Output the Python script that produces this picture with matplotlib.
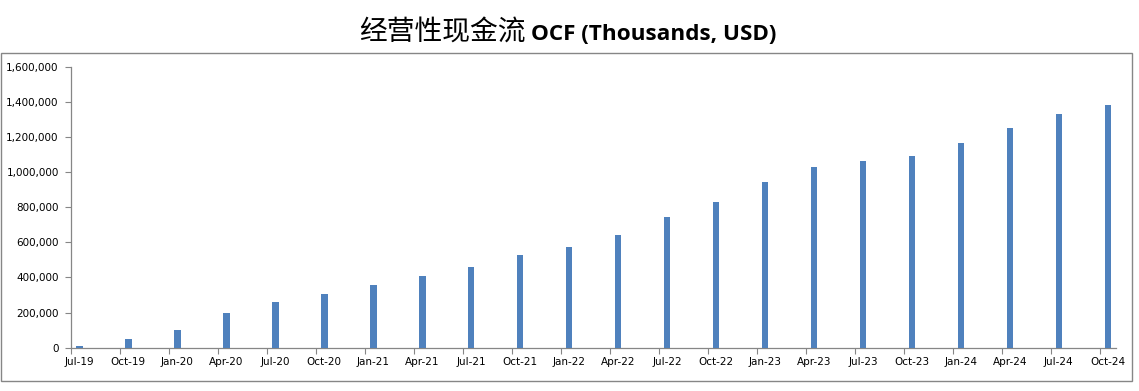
import matplotlib
matplotlib.use("Agg")
import matplotlib.pyplot as plt
from matplotlib.patches import Rectangle
from matplotlib.ticker import FuncFormatter, FixedLocator

# quarterly operating cash flow, thousands USD
quarters = ["Jul-19", "Oct-19", "Jan-20", "Apr-20", "Jul-20", "Oct-20",
            "Jan-21", "Apr-21", "Jul-21", "Oct-21", "Jan-22", "Apr-22",
            "Jul-22", "Oct-22", "Jan-23", "Apr-23", "Jul-23", "Oct-23",
            "Jan-24", "Apr-24", "Jul-24", "Oct-24"]
ocf = [8000, 51000, 102000, 198000, 262000, 307000,
       357000, 408000, 460000, 528000, 573000, 642000,
       746000, 830000, 944000, 1029000, 1063000, 1092000,
       1166000, 1251000, 1331000, 1382000]
y_ticks = [0, 200000, 400000, 600000, 800000, 1000000, 1200000, 1400000, 1600000]

bar_color = "#4F81BD"
axis_color = "#868686"

fig = plt.figure(figsize=(11.39, 3.91), dpi=100)
W, H = 1139, 391

# chart frame
fig.patches.append(Rectangle((0.5 / W, 1 - 380.5 / H), 1131 / W, 328 / H,
                             transform=fig.transFigure, fill=False,
                             edgecolor=axis_color, linewidth=1.0))

ax = fig.add_axes([71.3 / W, 1 - 347.7 / H, (1116 - 71.3) / W, (347.7 - 66.7) / H])

# monthly slots, one bar each quarter in the middle of its month
months = [3 * i for i in range(len(quarters))]
centers = [m + 0.5 for m in months]
ax.bar(centers, ocf, width=0.4, color=bar_color, zorder=3)

ax.set_xlim(0, 3 * len(quarters) - 2)
ax.set_ylim(y_ticks[0], y_ticks[-1])

ax.xaxis.set_major_locator(FixedLocator(months))
ax.xaxis.set_minor_locator(FixedLocator(centers))
ax.set_xticklabels([], minor=False)
ax.set_xticklabels(quarters, minor=True)
ax.tick_params(axis="x", which="major", length=4, width=0.8, color=axis_color)
ax.tick_params(axis="x", which="minor", length=0, pad=7, labelsize=7.5)

ax.set_yticks(y_ticks)
ax.yaxis.set_major_formatter(FuncFormatter(lambda v, p: f"{int(v):,}"))
ax.tick_params(axis="y", length=4, width=0.8, color=axis_color, pad=5, labelsize=7.5)

for s in ["top", "right"]:
    ax.spines[s].set_visible(False)
for s in ["left", "bottom"]:
    ax.spines[s].set_color(axis_color)
    ax.spines[s].set_linewidth(0.9)

# title: chinese regular + english bold
fig.text(526 / W, 1 - 40 / H, "经营性现金流", fontsize=20, ha="right", va="baseline",
         family=["Noto Sans CJK SC", "DejaVu Sans"])
fig.text(531 / W, 1 - 40 / H, "OCF (Thousands, USD)", fontsize=16.2, ha="left",
         va="baseline", fontweight="bold", family=["Open Sans", "DejaVu Sans"])

fig.savefig("out.png", dpi=100)
